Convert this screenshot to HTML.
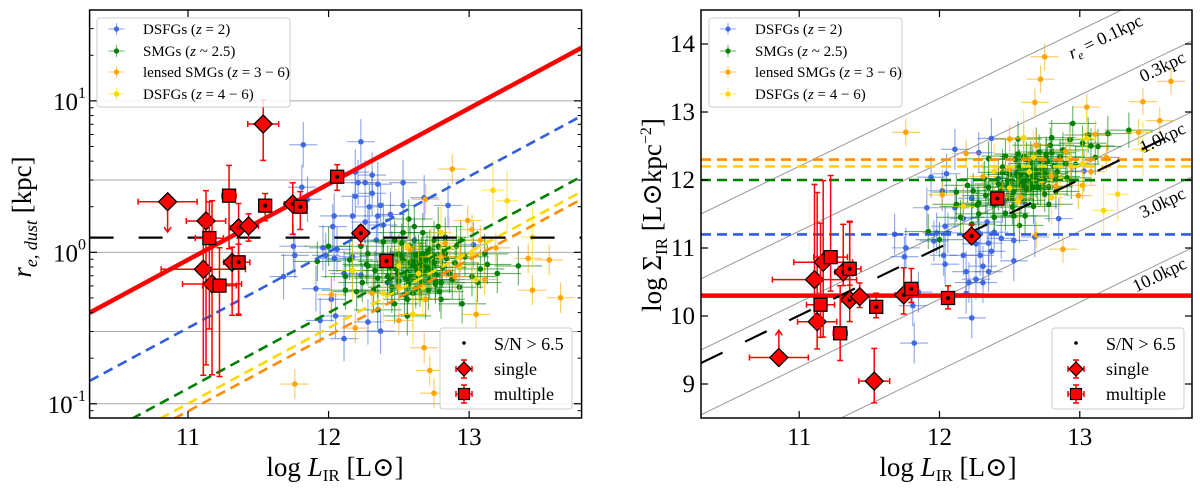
<!DOCTYPE html>
<html><head><meta charset="utf-8">
<style>
html,body{margin:0;padding:0;background:#fff;}
svg{display:block;font-family:"Liberation Serif","DejaVu Serif",serif;}
</style></head>
<body>
<svg id="fig" width="1200" height="490" viewBox="0 0 1200 490" xmlns="http://www.w3.org/2000/svg">
<defs>
<clipPath id="clipL"><rect x="89.6" y="10" width="492" height="408"/></clipPath>
<clipPath id="clipR"><rect x="701" y="10" width="491" height="408"/></clipPath>
</defs>
<g id="left"></g>
<g id="right"></g>
</svg>
<script>
// ---------- data ----------
const blueL=[11.82,12.23,12.19,12.31,12.26,12.21,12.31,12.53,12.19,12.35,12.68,12.85,12.53,12.37,12.29,12.44,12.04,12.17,12.35,12.03,12.26,12.39,11.85,11.81,11.75,11.76,11.98,11.96,12.06,12.04,12.17,12.34,12.53,12.45,12.11,12.23,11.91,12.02,12.05,12.28,12.11,12.37,11.94,12.42,12.56,12.67,13.03,12.61,12.28,11.68];
const blueLogR=[0.71,0.73,0.53,0.51,0.46,0.46,0.39,0.46,0.37,0.45,0.36,0.31,0.31,0.31,0.30,0.25,0.24,0.24,0.24,0.17,0.20,0.18,0.35,0.43,0.04,-0.02,-0.02,0.03,0.02,-0.04,-0.03,0.08,0.13,-0.01,-0.14,-0.15,-0.24,-0.31,-0.42,-0.46,-0.57,-0.52,-0.45,-0.20,-0.18,-0.14,0.05,0.08,0.13,-0.16];
const greenL=[11.92,12.00,12.15,12.23,12.27,12.24,12.57,12.78,12.91,13.35,13.20,13.08,12.95,12.76,12.65,12.56,12.45,12.35,12.39,12.47,12.58,12.67,12.75,12.83,12.90,12.97,12.53,12.61,12.69,12.73,12.56,12.64,12.50,12.32,12.20,12.12,12.28,12.42,12.80,12.86,13.02,12.93,12.71,12.60,12.47,12.35,12.67,12.78,12.53,12.39,12.28,12.17,12.61,12.83,12.94,12.45,12.69,12.80,12.56,12.12,13.11,13.13,13.06,12.64,12.50,12.72,12.58,12.67,12.42,12.75,
12.48,12.52,12.55,12.60,12.63,12.66,12.70,12.74,12.77,12.81,12.62,12.57,12.68,12.72,12.59,12.65,12.54,12.49,12.44,12.84,12.88,12.38,12.33,12.62,12.70,12.76,12.58,12.66,12.52,12.79];
const greenLogR=[-0.06,0.04,-0.05,0.04,-0.08,-0.20,0.22,0.17,0.04,-0.09,-0.14,-0.11,-0.34,-0.19,-0.23,-0.31,-0.27,-0.17,-0.02,0.08,0.04,0.13,0.08,-0.01,-0.07,-0.03,-0.05,-0.09,-0.05,-0.12,-0.14,-0.16,-0.19,-0.25,-0.26,-0.16,-0.09,-0.09,-0.20,-0.14,-0.16,-0.23,-0.25,-0.27,-0.34,-0.38,-0.01,0.04,0.13,0.07,-0.01,-0.12,0.17,0.10,0.08,-0.23,-0.31,-0.31,-0.42,-0.25,-0.01,-0.08,-0.20,-0.01,-0.01,0.02,-0.07,-0.09,-0.16,-0.07,
-0.11,-0.03,-0.17,-0.06,-0.12,-0.19,-0.10,-0.04,-0.15,-0.10,-0.02,-0.21,-0.13,-0.18,-0.08,-0.06,-0.28,-0.14,-0.10,-0.04,-0.18,-0.06,-0.12,-0.24,0.00,-0.21,-0.15,-0.03,0.06,-0.26];
const orangeL=[12.88,12.69,12.99,13.02,13.08,13.19,13.42,13.57,13.45,13.65,13.05,12.68,12.72,12.75,11.76,12.02,12.19,12.50,12.60,12.69,12.58,12.80,12.45,12.50,12.31,12.83,12.90,13.11,12.94];
const orangeLogR=[0.55,0.35,0.21,0.15,0.08,0.03,-0.04,-0.05,-0.25,-0.30,-0.41,-0.63,-0.78,-0.93,-0.87,-0.28,-0.50,-0.45,-0.41,-0.31,0.02,-0.03,-0.06,-0.23,-0.27,0.06,-0.16,-0.18,-0.03];
const yellowL=[13.17,13.27,13.45,12.86,12.73,12.93,13.05,12.60,12.50,12.64,12.17,12.39,12.80,13.02,12.56,12.67];
const yellowLogR=[0.41,0.34,0.10,0.03,-0.03,-0.09,-0.18,-0.41,-0.09,-0.14,-0.12,-0.27,0.13,-0.01,0.04,-0.23];
const blueErrL=0.1, blueErrR=0.15, greenErrL=0.17, greenErrR=0.13, orangeErrL=0.1, orangeErrR=0.1, yellowErrL=0.08, yellowErrR=0.2;

// red: single (diamond) and multiple (square)
const singleL=[10.855,11.535,11.128,11.109,11.171,11.36,11.431,11.314,11.745,12.229];
const singleLogR=[0.334,0.847,0.207,-0.112,-0.209,0.162,0.174,-0.066,0.319,0.127];
const singleErrL=[0.21,0.11,0.14,0.3,0.21,0.06,0.07,0.06,0.06,0.04];
const singleErrRup=[0,0.16,0.2,0.3,0.55,0.16,0.08,0.1,0.14,0.05];
const singleErrRdn=[0.2,0.24,0.95,0.7,0.6,0.57,0.1,0.35,0.2,0.08];
const singleDot=[0,0,0,0,0,1,0,1,1,1];
const singleLimit=[1,0,0,0,0,0,0,0,0,0];
const multiL=[11.292,11.152,11.224,11.36,11.549,11.799,12.061,12.412];
const multiLogR=[0.374,0.094,-0.22,-0.066,0.308,0.301,0.499,-0.057];
const multiErrL=[0.05,0.1,0.12,0.08,0.04,0.05,0.04,0.03];
const multiErrRup=[0.2,0.24,0.25,0.12,0.08,0.1,0.08,0.03];
const multiErrRdn=[0.35,0.6,0.6,0.35,0.1,0.15,0.09,0.03];
const multiDot=[0,0,0,1,1,1,1,1];

const sigmaLevels=[12.3,12.2,12.0,11.2];
const sigmaColors=["#ff8c00","#ffd700","#008000","#2f5fe0"];
const sigmaRed=10.3;
const blackR=1.25;
const radiusGrid=[0.1,0.3,1,3,10];
const radiusLabels=["0.1","0.3","1.0","3.0","10.0"];
const xTicks=[11,12,13];
const leftYTicks=[-1,0,1];
const rightYTicks=[9,10,11,12,13,14];
const LOG2PI=Math.log10(2*Math.PI);

// ---------- axes ----------
const L0=10.3,L1=13.8;
const xl=L=>89.6+(L-L0)/(L1-L0)*492;
const xr=L=>701+(L-L0)/(L1-L0)*491;
const LR0=-1.094,LR1=1.6;
const yl=lr=>418-(lr-LR0)/(LR1-LR0)*408;
const S0=8.5,S1=14.5;
const yr=s=>418-(s-S0)/(S1-S0)*408;
const sigma=(L,lr)=>L-LOG2PI-2*lr;

const NS="http://www.w3.org/2000/svg";
function mk(parent,tag,attrs,text){
  const e=document.createElementNS(NS,tag);
  for(const k in attrs)e.setAttribute(k,attrs[k]);
  if(text!==undefined)e.textContent=text;
  parent.appendChild(e);return e;
}
const gL=document.getElementById('left'), gR=document.getElementById('right');

function panelFrame(g,x0,w){
  const r=mk(g,'rect',{x:x0,y:10,width:w,height:408,fill:'none',stroke:'#000','stroke-width':1.5});
  
  
}

// ---------- LEFT PANEL ----------
const cL=mk(gL,'g',{'clip-path':'url(#clipL)'});


radiusGrid.forEach(r=>{
  const y=yl(Math.log10(r));
  const l=mk(cL,'line',{x1:89.6,x2:581.6,y1:y,y2:y,stroke:'#aaa','stroke-width':1});
  
  
});

function scatter(g,xs,ys,color,eX,eY,fx,fy,toY,name){
  const grp=mk(g,'g',{});
  
  
  xs.forEach((L,i)=>{
    const v=toY(L,ys[i]);
    const x=fx(L),y=fy(v);
    mk(grp,'line',{x1:fx(L-eX),x2:fx(L+eX),y1:y,y2:y,stroke:color,'stroke-width':1.1,opacity:0.6});
    mk(grp,'line',{x1:x,x2:x,y1:fy(v+eY),y2:fy(v-eY),stroke:color,'stroke-width':1.1,opacity:0.6});
    const c=mk(grp,'circle',{cx:x,cy:y,r:2.8,fill:color});
    
    
  });
}
const idY=(L,lr)=>lr;
scatter(cL,blueL,blueLogR,'#4169e1',blueErrL,blueErrR,xl,yl,idY,'dsfg-z2-points');
scatter(cL,greenL,greenLogR,'#008000',greenErrL,greenErrR,xl,yl,idY,'smg-points');
scatter(cL,orangeL,orangeLogR,'#ffa500',orangeErrL,orangeErrR,xl,yl,idY,'lensed-smg-points');
scatter(cL,yellowL,yellowLogR,'#ffd700',yellowErrL,yellowErrR,xl,yl,idY,'dsfg-z4-6-points');

sigmaLevels.forEach((s,i)=>{
  const f=L=>0.5*(L-LOG2PI-s);
  const l=mk(cL,'line',{x1:xl(L0),y1:yl(f(L0)),x2:xl(L1),y2:yl(f(L1)),stroke:sigmaColors[i],'stroke-width':2.6,'stroke-dasharray':'10 6'});
  
  
});
{
  const f=L=>0.5*(L-LOG2PI-sigmaRed);
  const l=mk(cL,'line',{x1:xl(L0),y1:yl(f(L0)),x2:xl(L1),y2:yl(f(L1)),stroke:'#ff0000','stroke-width':4.5});
  
  
  const yb=yl(Math.log10(blackR));
  const b=mk(cL,'line',{x1:89.6,x2:581.6,y1:yb,y2:yb,stroke:'#000','stroke-width':2.2,'stroke-dasharray':'24 25'});
  
  
}

function redMarkers(g,xs,ys,eX,eUp,eDn,dots,limits,shape,fx,fy,mode){
  const grp=mk(g,'g',{});
  
  
  xs.forEach((L,i)=>{
    let v,up,dn;
    if(mode==='r'){v=ys[i];up=eUp[i];dn=eDn[i];}
    else{v=sigma(L,ys[i]);up=2*eDn[i];dn=2*eUp[i];}
    const x=fx(L),y=fy(v);
    const x1=fx(L-eX[i]),x2=fx(L+eX[i]);
    mk(grp,'line',{x1:x1,x2:x2,y1:y,y2:y,stroke:'#f00','stroke-width':1.5});
    mk(grp,'line',{x1:x1,x2:x1,y1:y-3,y2:y+3,stroke:'#f00','stroke-width':1.5});
    mk(grp,'line',{x1:x2,x2:x2,y1:y-3,y2:y+3,stroke:'#f00','stroke-width':1.5});
    if(limits&&limits[i]){
      const tipv=mode==='r'?v-dn:v+up;
      const ty=fy(tipv);
      mk(grp,'line',{x1:x,x2:x,y1:y,y2:ty,stroke:'#f00','stroke-width':1.5});
      const d=ty>y?-1:1;
      mk(grp,'path',{d:`M${x-3.5},${ty+d*5} L${x},${ty} L${x+3.5},${ty+d*5}`,fill:'none',stroke:'#f00','stroke-width':1.5});
    }else{
      const yt=fy(v+up),yb=fy(v-dn);
      mk(grp,'line',{x1:x,x2:x,y1:yt,y2:yb,stroke:'#f00','stroke-width':1.5});
      mk(grp,'line',{x1:x-3,x2:x+3,y1:yt,y2:yt,stroke:'#f00','stroke-width':1.5});
      mk(grp,'line',{x1:x-3,x2:x+3,y1:yb,y2:yb,stroke:'#f00','stroke-width':1.5});
    }
    let m;
    if(shape==='d') m=mk(grp,'path',{d:`M${x},${y-9} L${x+9},${y} L${x},${y+9} L${x-9},${y} Z`,fill:'#f00',stroke:'#000','stroke-width':1.3});
    else m=mk(grp,'rect',{x:x-6.5,y:y-6.5,width:13,height:13,fill:'#f00',stroke:'#000','stroke-width':1.3});
    
    
    if(dots[i]) mk(grp,'circle',{cx:x,cy:y,r:2,fill:'#000'});
  });
}
redMarkers(cL,singleL,singleLogR,singleErrL,singleErrRup,singleErrRdn,singleDot,singleLimit,'d',xl,yl,'r');
redMarkers(cL,multiL,multiLogR,multiErrL,multiErrRup,multiErrRdn,multiDot,null,'s',xl,yl,'r');

// ---------- RIGHT PANEL ----------
const cR=mk(gR,'g',{'clip-path':'url(#clipR)'});


radiusGrid.forEach(r=>{
  const f=L=>L-LOG2PI-2*Math.log10(r);
  const l=mk(cR,'line',{x1:xr(L0),y1:yr(f(L0)),x2:xr(L1),y2:yr(f(L1)),stroke:'#999','stroke-width':1});
  
  
});
scatter(cR,blueL,blueLogR,'#4169e1',blueErrL,2*blueErrR,xr,yr,sigma,'dsfg-z2-points');
scatter(cR,greenL,greenLogR,'#008000',greenErrL,2*greenErrR,xr,yr,sigma,'smg-points');
scatter(cR,orangeL,orangeLogR,'#ffa500',orangeErrL,2*orangeErrR,xr,yr,sigma,'lensed-smg-points');
scatter(cR,yellowL,yellowLogR,'#ffd700',yellowErrL,2*yellowErrR,xr,yr,sigma,'dsfg-z4-6-points');
sigmaLevels.forEach((s,i)=>{
  const l=mk(cR,'line',{x1:701,x2:1192,y1:yr(s),y2:yr(s),stroke:sigmaColors[i],'stroke-width':2.6,'stroke-dasharray':'10 6'});
  
  
});
{
  const l=mk(cR,'line',{x1:701,x2:1192,y1:yr(sigmaRed),y2:yr(sigmaRed),stroke:'#f00','stroke-width':4.5});
  
  
  const f=L=>L-LOG2PI-2*Math.log10(blackR);
  const b=mk(cR,'line',{x1:xr(L0),y1:yr(f(L0)),x2:xr(13.7),y2:yr(f(13.7)),stroke:'#000','stroke-width':2.2,'stroke-dasharray':'24 25'});
  
  
}
redMarkers(cR,singleL,singleLogR,singleErrL,singleErrRup,singleErrRdn,singleDot,singleLimit,'d',xr,yr,'s');
redMarkers(cR,multiL,multiLogR,multiErrL,multiErrRup,multiErrRdn,multiDot,null,'s',xr,yr,'s');

const labPos=[[1108,42],[1165,72],[1165,143],[1165,208],[1162,280]];
radiusLabels.forEach((t,i)=>{
  const [x,y]=labPos[i];
  const tx=mk(gR,'text',{x:x,y:y,'font-size':18,'text-anchor':'middle',transform:`rotate(-25.8 ${x} ${y})`});
  
  
  if(i===0){
    mk(tx,'tspan',{'font-style':'italic'},'r');
    mk(tx,'tspan',{'font-style':'italic','font-size':12,dy:4},'e');
    mk(tx,'tspan',{dy:-4},' = '+t+'kpc');
  } else tx.textContent=t+'kpc';
});

// ---------- ticks & labels ----------
function ticksX(g,fx){
  xTicks.forEach(t=>{
    const x=fx(t);
    mk(g,'line',{x1:x,x2:x,y1:418,y2:411,stroke:'#000','stroke-width':1.2});
    mk(g,'line',{x1:x,x2:x,y1:10,y2:17,stroke:'#000','stroke-width':1.2});
    const tl=mk(g,'text',{x:x,y:445,'font-size':25,'text-anchor':'middle'},String(t));
    
    
  });
}
ticksX(gL,xl);ticksX(gR,xr);
leftYTicks.forEach(t=>{
  const y=yl(t);
  mk(gL,'line',{x1:89.6,x2:97,y1:y,y2:y,stroke:'#000','stroke-width':1.2});
  mk(gL,'line',{x1:581.6,x2:574,y1:y,y2:y,stroke:'#000','stroke-width':1.2});
  const tx=mk(gL,'text',{x:86,y:y+9,'font-size':25,'text-anchor':'end'});
  
  
  mk(tx,'tspan',{},'10');
  mk(tx,'tspan',{'font-size':16,dy:-12},String(t));
  for(let k=2;k<=9;k++){
    const lv=t+Math.log10(k);
    if(lv>LR1)break;
    const ym=yl(lv);
    mk(gL,'line',{x1:89.6,x2:93.5,y1:ym,y2:ym,stroke:'#000','stroke-width':1});
    mk(gL,'line',{x1:581.6,x2:577.7,y1:ym,y2:ym,stroke:'#000','stroke-width':1});
  }
});
{const ym=yl(Math.log10(0.09));
 mk(gL,'line',{x1:89.6,x2:93.5,y1:ym,y2:ym,stroke:'#000','stroke-width':1});
 mk(gL,'line',{x1:581.6,x2:577.7,y1:ym,y2:ym,stroke:'#000','stroke-width':1});}
rightYTicks.forEach(t=>{
  const y=yr(t);
  mk(gR,'line',{x1:701,x2:708,y1:y,y2:y,stroke:'#000','stroke-width':1.2});
  mk(gR,'line',{x1:1192,x2:1185,y1:y,y2:y,stroke:'#000','stroke-width':1.2});
  const tl=mk(gR,'text',{x:695,y:y+8,'font-size':25,'text-anchor':'end'},String(t));
  
  
});
panelFrame(gL,89.6,492);panelFrame(gR,701,491);

function xLabel(g,cx){
  const t=mk(g,'text',{x:cx,y:476,'font-size':27,'text-anchor':'middle'});
  
  
  mk(t,'tspan',{},'log ');
  mk(t,'tspan',{'font-style':'italic'},'L');
  mk(t,'tspan',{'font-size':17,dy:5},'IR');
  mk(t,'tspan',{dy:-5},' [L');
  mk(t,'tspan',{},'\u2299]');
}
xLabel(gL,335);xLabel(gR,948);
{
  const t=mk(gL,'text',{x:0,y:0,'font-size':27,'text-anchor':'middle',transform:'translate(31,217) rotate(-90)'});
  
  
  mk(t,'tspan',{'font-style':'italic'},'r');
  mk(t,'tspan',{'font-style':'italic','font-size':18,dy:6},'e, dust');
  mk(t,'tspan',{dy:-6},'  [kpc]');
  const t2=mk(gR,'text',{x:0,y:0,'font-size':27,'text-anchor':'middle',transform:'translate(661,215) rotate(-90)'});
  
  
  mk(t2,'tspan',{},'log \u03A3');
  mk(t2,'tspan',{'font-size':17,dy:6},'IR');
  mk(t2,'tspan',{dy:-6},'  [L\u2299kpc');
  mk(t2,'tspan',{'font-size':16,dy:-10},'\u22122');
  mk(t2,'tspan',{dy:10},']');
}

// ---------- legends ----------
const legNames=[['DSFGs (','z',' = 2)'],['SMGs (','z',' ~ 2.5)'],['lensed SMGs (','z',' = 3 \u2212 6)'],['DSFGs (','z',' = 4 \u2212 6)']];
const legColors=['#4169e1','#008000','#ffa500','#ffd700'];
const legY=[29,51,72,94];
function upperLegend(g,bx,mx,tx){
  const box=mk(g,'rect',{x:bx,y:18,width:193,height:89,rx:3,fill:'#fff','fill-opacity':0.85,stroke:'#ccc','stroke-width':1});
  
  
  legNames.forEach((n,i)=>{
    const y=legY[i];
    mk(g,'line',{x1:mx-8,x2:mx+8,y1:y,y2:y,stroke:legColors[i],'stroke-width':1,opacity:0.6});
    mk(g,'line',{x1:mx,x2:mx,y1:y-6,y2:y+6,stroke:legColors[i],'stroke-width':1,opacity:0.6});
    mk(g,'circle',{cx:mx,cy:y,r:2.6,fill:legColors[i]});
    const t=mk(g,'text',{x:tx,y:y+5,'font-size':15});
    
    
    mk(t,'tspan',{},n[0]);mk(t,'tspan',{'font-style':'italic'},n[1]);mk(t,'tspan',{},n[2]);
  });
}
upperLegend(gL,97,116.5,143);upperLegend(gR,709,728,755);
function lowerLegend(g,bx,mx,tx){
  const box=mk(g,'rect',{x:bx,y:328,width:132,height:81,rx:3,fill:'#fff','fill-opacity':0.85,stroke:'#ccc','stroke-width':1});
  
  
  mk(g,'circle',{cx:mx,cy:343,r:1.8,fill:'#000'});
  const t1=mk(g,'text',{x:tx,y:350,'font-size':18},'S/N > 6.5');
  
  
  [[369,'d','single'],[394,'s','multiple']].forEach(([y,s,lab])=>{
    mk(g,'line',{x1:mx-8,x2:mx+8,y1:y,y2:y,stroke:'#f00','stroke-width':1.5});
    mk(g,'line',{x1:mx,x2:mx,y1:y-9,y2:y+9,stroke:'#f00','stroke-width':1.5});
    mk(g,'line',{x1:mx-8,x2:mx-8,y1:y-3,y2:y+3,stroke:'#f00','stroke-width':1.5});
    mk(g,'line',{x1:mx+8,x2:mx+8,y1:y-3,y2:y+3,stroke:'#f00','stroke-width':1.5});
    mk(g,'line',{x1:mx-3,x2:mx+3,y1:y-9,y2:y-9,stroke:'#f00','stroke-width':1.5});
    mk(g,'line',{x1:mx-3,x2:mx+3,y1:y+9,y2:y+9,stroke:'#f00','stroke-width':1.5});
    if(s==='d') mk(g,'path',{d:`M${mx},${y-7} L${mx+7},${y} L${mx},${y+7} L${mx-7},${y} Z`,fill:'#f00',stroke:'#000','stroke-width':1.2});
    else mk(g,'rect',{x:mx-5.5,y:y-5.5,width:11,height:11,fill:'#f00',stroke:'#000','stroke-width':1.2});
    const t=mk(g,'text',{x:tx,y:y+6,'font-size':18},lab);
    
    
  });
}
lowerLegend(gL,440,464,494);lowerLegend(gR,1052,1076,1106);
</script>
</body></html>
